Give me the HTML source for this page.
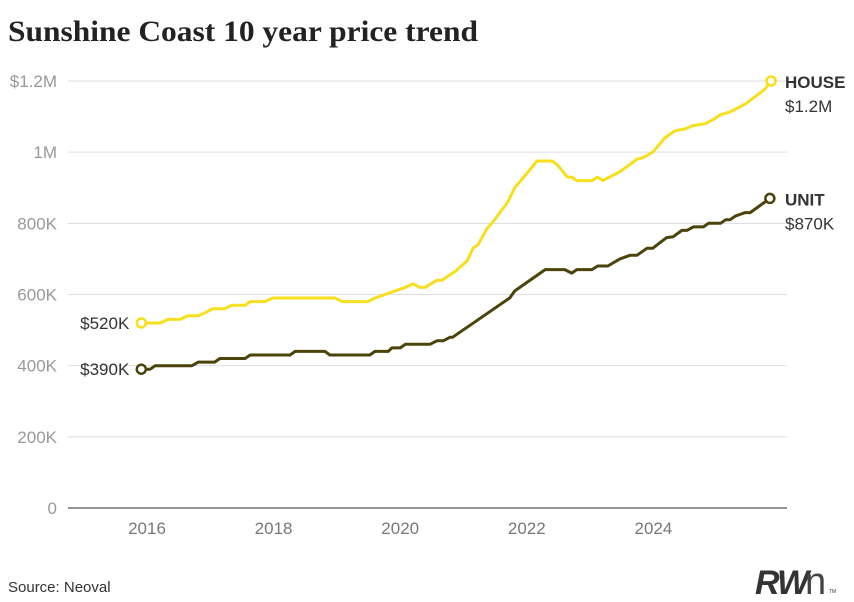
<!DOCTYPE html>
<html><head><meta charset="utf-8"><style>
html,body{margin:0;padding:0;background:#fff;width:854px;height:602px;overflow:hidden}
svg{display:block;font-family:"Liberation Sans",sans-serif}
</style></head><body>
<svg id="chart" width="854" height="602" viewBox="0 0 854 602">
<text x="8" y="41" font-family="'Liberation Serif',serif" font-weight="bold" font-size="30" fill="#222" textLength="470" lengthAdjust="spacingAndGlyphs">Sunshine Coast 10 year price trend</text>
<g id="grid"></g>
<g id="yticks"></g>
<g id="xticks"></g>
<g id="series"></g>
<g id="labels"></g>
<text x="8" y="592" font-size="15" fill="#333">Source: Neoval</text>
<g>
<text x="755" y="594" font-size="34" font-weight="bold" font-style="italic" fill="#333" letter-spacing="-2">RW</text>
<text x="805" y="594" font-size="38" fill="#444">n</text>
<text x="829" y="593" font-size="5" fill="#333">TM</text>
</g>
</svg>
<script>
const yTicks=[0,200,400,600,800,1000,1200];
const yTickLabels=["0","200K","400K","600K","800K","1M","$1.2M"];
const xTicks=[2016,2018,2020,2022,2024];
const houseYears=[2015.91,2016.21,2016.33,2016.52,2016.65,2016.81,2016.93,2017.04,2017.23,2017.34,2017.55,2017.63,2017.86,2017.99,2018.97,2019.08,2019.49,2019.60,2019.76,2019.92,2020.08,2020.20,2020.31,2020.39,2020.58,2020.66,2020.87,2021.06,2021.15,2021.23,2021.37,2021.47,2021.70,2021.81,2022.00,2022.16,2022.40,2022.48,2022.64,2022.71,2022.79,2023.03,2023.12,2023.20,2023.47,2023.74,2023.84,2023.99,2024.18,2024.34,2024.50,2024.63,2024.82,2024.93,2025.06,2025.21,2025.45,2025.64,2025.75,2025.86];
const houseValues=[520,520,530,530,540,540,550,560,560,570,570,580,580,590,590,580,580,590,600,610,620,630,620,620,640,640,665,695,730,740,785,805,860,900,940,975,975,965,930,930,920,920,930,920,945,980,985,1000,1040,1060,1065,1075,1080,1090,1105,1113,1135,1160,1175,1200];
const unitYears=[2015.91,2016.05,2016.13,2016.71,2016.81,2017.07,2017.15,2017.55,2017.63,2018.26,2018.34,2018.81,2018.89,2019.52,2019.60,2019.81,2019.87,2020.00,2020.08,2020.47,2020.58,2020.68,2020.79,2020.83,2021.73,2021.81,2022.29,2022.60,2022.71,2022.79,2023.03,2023.12,2023.28,2023.47,2023.63,2023.74,2023.90,2023.99,2024.21,2024.31,2024.45,2024.53,2024.63,2024.79,2024.87,2025.06,2025.14,2025.21,2025.29,2025.37,2025.45,2025.53,2025.84];
const unitValues=[390,390,400,400,410,410,420,420,430,430,440,440,430,430,440,440,450,450,460,460,470,470,480,480,590,610,670,670,660,670,670,680,680,700,710,710,730,730,760,762,780,780,790,790,800,800,810,810,820,825,830,830,870];
const houseColor="#f7df1e", unitColor="#4b4309";
const NS="http://www.w3.org/2000/svg";
function X(yr){return 147+(yr-2016)*63.3;}
function Y(v){return 508-v*0.35585;}
function mk(tag,attrs,parent){const e=document.createElementNS(NS,tag);for(const k in attrs)e.setAttribute(k,attrs[k]);parent.appendChild(e);return e;}
const grid=document.getElementById('grid'),yt=document.getElementById('yticks'),xt=document.getElementById('xticks'),ser=document.getElementById('series'),lab=document.getElementById('labels');
yTicks.forEach((v,i)=>{
  const l=mk('line',{x1:68,x2:787,y1:Y(v),y2:Y(v),stroke:v===0?'#555':'#ddd','stroke-width':v===0?1.2:1},grid);
  
  
  const t=mk('text',{x:57,y:Y(v)+6,'text-anchor':'end','font-size':17,fill:'#999'},yt);
  t.textContent=yTickLabels[i];
  
  
});
xTicks.forEach(v=>{
  const t=mk('text',{x:X(v),y:534,'text-anchor':'middle','font-size':17,fill:'#777'},xt);
  t.textContent=String(v);
  
  
});
function drawSeries(years,vals,color,name){
  const d=years.map((y,i)=>(i?'L':'M')+X(y).toFixed(1)+','+Y(vals[i]).toFixed(1)).join('');
  const p=mk('path',{d:d,fill:'none',stroke:color,'stroke-width':3,'stroke-linejoin':'round'},ser);
  
  
  [0,years.length-1].forEach(i=>{
    const c=mk('circle',{cx:X(years[i]),cy:Y(vals[i]),r:4.5,fill:'#fff',stroke:color,'stroke-width':2.5},ser);
    
    
  });
}
drawSeries(houseYears,houseValues,houseColor,'house');
drawSeries(unitYears,unitValues,unitColor,'unit');
function fmt(v){return v>=1000?'$'+(v/1000)+'M':'$'+v+'K';}
function addLabels(years,vals,name){
  const n=years.length-1;
  const s=mk('text',{x:X(years[0])-12,y:Y(vals[0])+6,'text-anchor':'end','font-size':17,fill:'#333'},lab);
  s.textContent=fmt(vals[0]);
  
  
  const a=mk('text',{x:785,y:Y(vals[n])+7,'font-size':17,'font-weight':'bold',fill:'#333'},lab);
  a.textContent=name.toUpperCase();
  
  
  const b=mk('text',{x:785,y:Y(vals[n])+31,'font-size':17,fill:'#333'},lab);
  b.textContent=fmt(vals[n]);
  
  
}
addLabels(houseYears,houseValues,'house');
addLabels(unitYears,unitValues,'unit');
</script>
</body></html>
